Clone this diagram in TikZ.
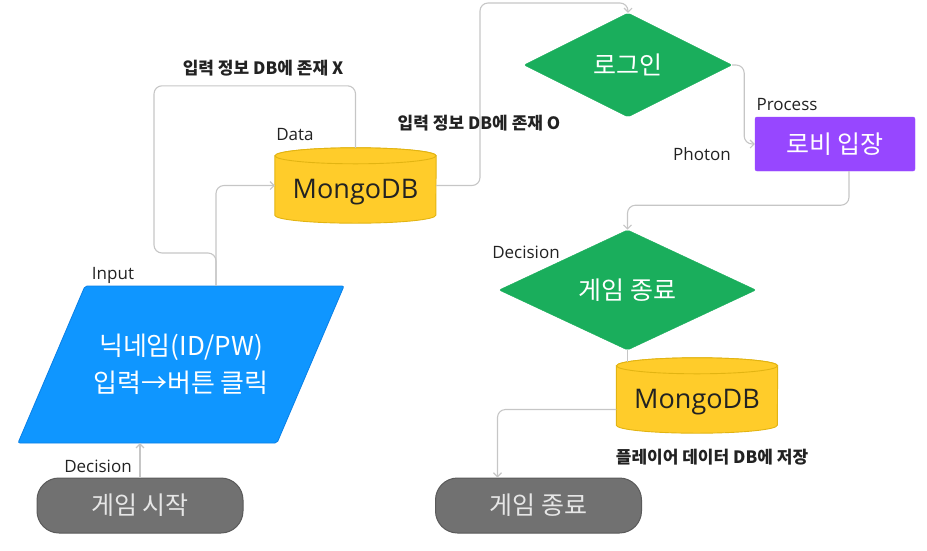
\documentclass[tikz,border=0pt]{standalone}
\usepackage{fontspec}
\setmainfont{Noto Sans CJK KR}
\newfontfamily\latinf{Open Sans}
\usetikzlibrary{shapes.geometric,arrows.meta,backgrounds,calc}
\definecolor{lineg}{HTML}{C6C6C6}
\definecolor{labelc}{HTML}{222222}
\definecolor{bluef}{HTML}{0F96FF}
\definecolor{blued}{HTML}{0A80E6}
\definecolor{greenf}{HTML}{1AAE5C}
\definecolor{purplef}{HTML}{9747FF}
\definecolor{yellowf}{HTML}{FFCC2A}
\definecolor{yellowd}{HTML}{E2B412}
\definecolor{grayf}{HTML}{717171}
\definecolor{grayd}{HTML}{5A5A5A}
\definecolor{grayt}{HTML}{E6E6E6}
\begin{document}
\begin{tikzpicture}[x=1pt,y=-1pt,
  conn/.style={draw=lineg, line width=1.1pt, rounded corners=8pt},
  arr/.style={conn, -{Straight Barb[length=4pt,width=8pt]}},
  lbl/.style={font=\latinf\fontsize{17}{19}\selectfont, text=labelc, inner sep=0pt},
  blbl/.style={font=\bfseries\fontsize{17}{19}\selectfont, text=labelc, inner sep=0pt},
  ktext/.style={font=\fontsize{25}{28}\selectfont},
  term/.style={ktext, rounded corners=22pt, fill=grayf, draw=grayd, line width=1pt,
    minimum width=206pt, minimum height=55pt, text=grayt, inner sep=0pt},
  dec/.style={ktext, diamond, fill=greenf, draw=greenf, rounded corners=2pt, inner sep=0pt, text=white},
  proc/.style={ktext, rectangle, fill=purplef, draw=purplef, rounded corners=2pt,
    minimum width=160pt, minimum height=54pt, text=white, inner sep=0pt},
  dbnode/.style={minimum width=161pt, minimum height=75pt, inner sep=0pt},
  dbtext/.style={font=\latinf\fontsize{27}{30}\selectfont, text=labelc, inner sep=0pt},
  dbbody/.style={fill=yellowf, draw=yellowd, line width=0.9pt},
  inpnode/.style={font=\fontsize{26}{37}\selectfont, text=white, align=center,
    minimum width=180pt, minimum height=157pt, inner sep=0pt}
]
\useasboundingbox (0,0) rectangle (927,550);

% nodes
\node[term] (gs) at (140,505.5) {게임 시작};
\node[inpnode] (inp) at (181,364.5) {닉네임(ID/PW)\\입력→버튼 클릭};
\node[dbnode] (db1) at (355.5,185.5) {};
\node[dbtext] (db1t) at ([yshift=-7pt]db1.center) {MongoDB};
\node[dec, minimum width=208pt, minimum height=104pt] (login) at (628,65) {로그인};
\node[proc] (lobby) at (835,144) {로비 입장};
\node[dec, minimum width=257pt, minimum height=104pt] (gend) at (627.5,290) {게임 종료};
\node[dbnode] (db2) at (697,395.5) {};
\node[dbtext] (db2t) at ([yshift=-7pt]db2.center) {MongoDB};
\node[term] (gover) at (538.5,505.5) {게임 종료};

% background shapes
\begin{scope}[on background layer]
  \draw[fill=bluef, draw=blued, line width=0.8pt, rounded corners=2pt]
    (85,286) -- (344,286) -- (277,443) -- (18,443) -- cycle;
  \foreach \d in {db1,db2}{
    \draw[dbbody] ([yshift=-8pt]\d.north west) -- ([yshift=8pt]\d.south west)
      arc[start angle=180, end angle=360, x radius=80.5pt, y radius=8pt]
      -- ([yshift=-8pt]\d.north east)
      arc[start angle=0, end angle=180, x radius=80.5pt, y radius=8pt] -- cycle;
    \draw[dbbody] ([yshift=-8pt]\d.north) ellipse[x radius=80.5pt, y radius=8pt];
  }
\end{scope}

% labels
\node[lbl] (l1) at (113,275) {Input};
\node[lbl] (l2) at (98,466) {Decision};
\node[lbl] (l3) at (295,135) {Data};
\node[lbl] (l4) at (526,252) {Decision};
\node[lbl] (l5) at (787,105) {Process};
\node[lbl] (l6) at (702,154) {Photon};
\node[blbl] (b1) at (263,68) {입력 정보 DB에 존재 X};
\node[blbl] (b2) at (479,123) {입력 정보 DB에 존재 O};
\node[blbl] (b3) at (712,457) {플레이어 데이터 DB에 저장};

% connectors
\draw[arr] (gs.north) -- (gs.north |- inp.south);
\draw[arr] ([xshift=35pt]inp.north) |- (db1.west);
\draw[conn] (db1.north) -- ++(0,-62) -| (154,253) -| ([xshift=35pt]inp.north);
\draw[arr] (db1.east) -| (480,3) -| (login.north);
\draw[arr] (login.east) -- ++(12,0) |- (lobby.west);
\draw[arr] ([xshift=14pt]lobby.south) -- ++(0,34) -| (gend.north);
\draw[conn] (gend.south) -- ([yshift=-4pt]gend.south |- db2.north);
\draw[arr] ([yshift=-14pt]db2.west) -| ([xshift=-41pt]gover.north);
\end{tikzpicture}
\end{document}
